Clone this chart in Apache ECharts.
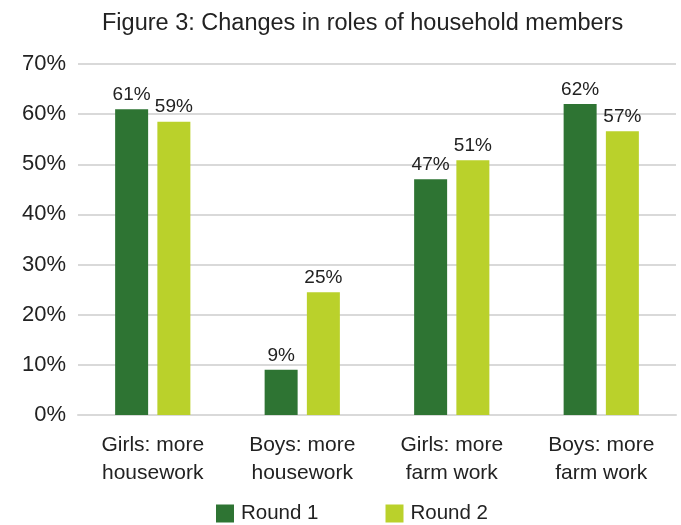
<!DOCTYPE html>
<html><head><meta charset="utf-8">
<script src="https://cdn.jsdelivr.net/npm/echarts@6/dist/echarts.min.js"></script>
<style>html,body{margin:0;padding:0;background:#fff}#c{width:681px;height:525px}</style>
</head><body><div id="c"></div>
<script>
var categories = ['Girls: more\nhousework', 'Boys: more\nhousework', 'Girls: more\nfarm work', 'Boys: more\nfarm work'];
var round1 = [61.0, 9.0, 47.0, 62.0];
var round2 = [58.5, 24.5, 50.8, 56.6];
var seriesNames = ['Round 1', 'Round 2'];
var titleText = 'Figure 3: Changes in roles of household members';
var FONT = 'Liberation Sans, Helvetica, Arial, sans-serif';
var chart = echarts.init(document.getElementById('c'), null, {renderer: 'canvas'});
function lbl(p){ return Math.round(p.value) + '%'; }
chart.setOption({
  animation: false,
  title: {text: titleText, left: 97, top: 7, textStyle: {fontFamily: FONT, fontSize: 23.5, fontWeight: 'normal', color: '#222'}},
  grid: {left: 78, right: 5, top: 64, bottom: 110, containLabel: false},
  legend: {
    data: seriesNames, top: 498, left: 211, itemWidth: 18, itemHeight: 18, itemGap: 67,
    icon: 'rect', textStyle: {fontFamily: FONT, fontSize: 20.5, color: '#222', padding: [0,0,0,2]}
  },
  xAxis: {
    type: 'category', data: categories,
    axisLine: {lineStyle: {color: '#d9d9d9', width: 2}},
    axisTick: {show: false},
    axisLabel: {fontFamily: FONT, fontSize: 21, color: '#222', lineHeight: 28, margin: 16, interval: 0}
  },
  yAxis: {
    type: 'value', min: 0, max: 70, interval: 10,
    axisLine: {show: false}, axisTick: {show: false},
    splitLine: {lineStyle: {color: '#d9d9d9', width: 2}},
    axisLabel: {fontFamily: FONT, fontSize: 22, color: '#222', margin: 12, formatter: '{value}%'}
  },
  series: [
    {name: seriesNames[0], type: 'bar', data: round1, barWidth: 33, barGap: '28%',
     itemStyle: {color: '#2e7433'},
     label: {show: true, position: 'top', distance: 5, formatter: lbl, fontFamily: FONT, fontSize: 19, color: '#222'}},
    {name: seriesNames[1], type: 'bar', data: round2, barWidth: 33,
     itemStyle: {color: '#bad12b'},
     label: {show: true, position: 'top', distance: 5, formatter: lbl, fontFamily: FONT, fontSize: 19, color: '#222'}}
  ]
});
</script></body></html>
